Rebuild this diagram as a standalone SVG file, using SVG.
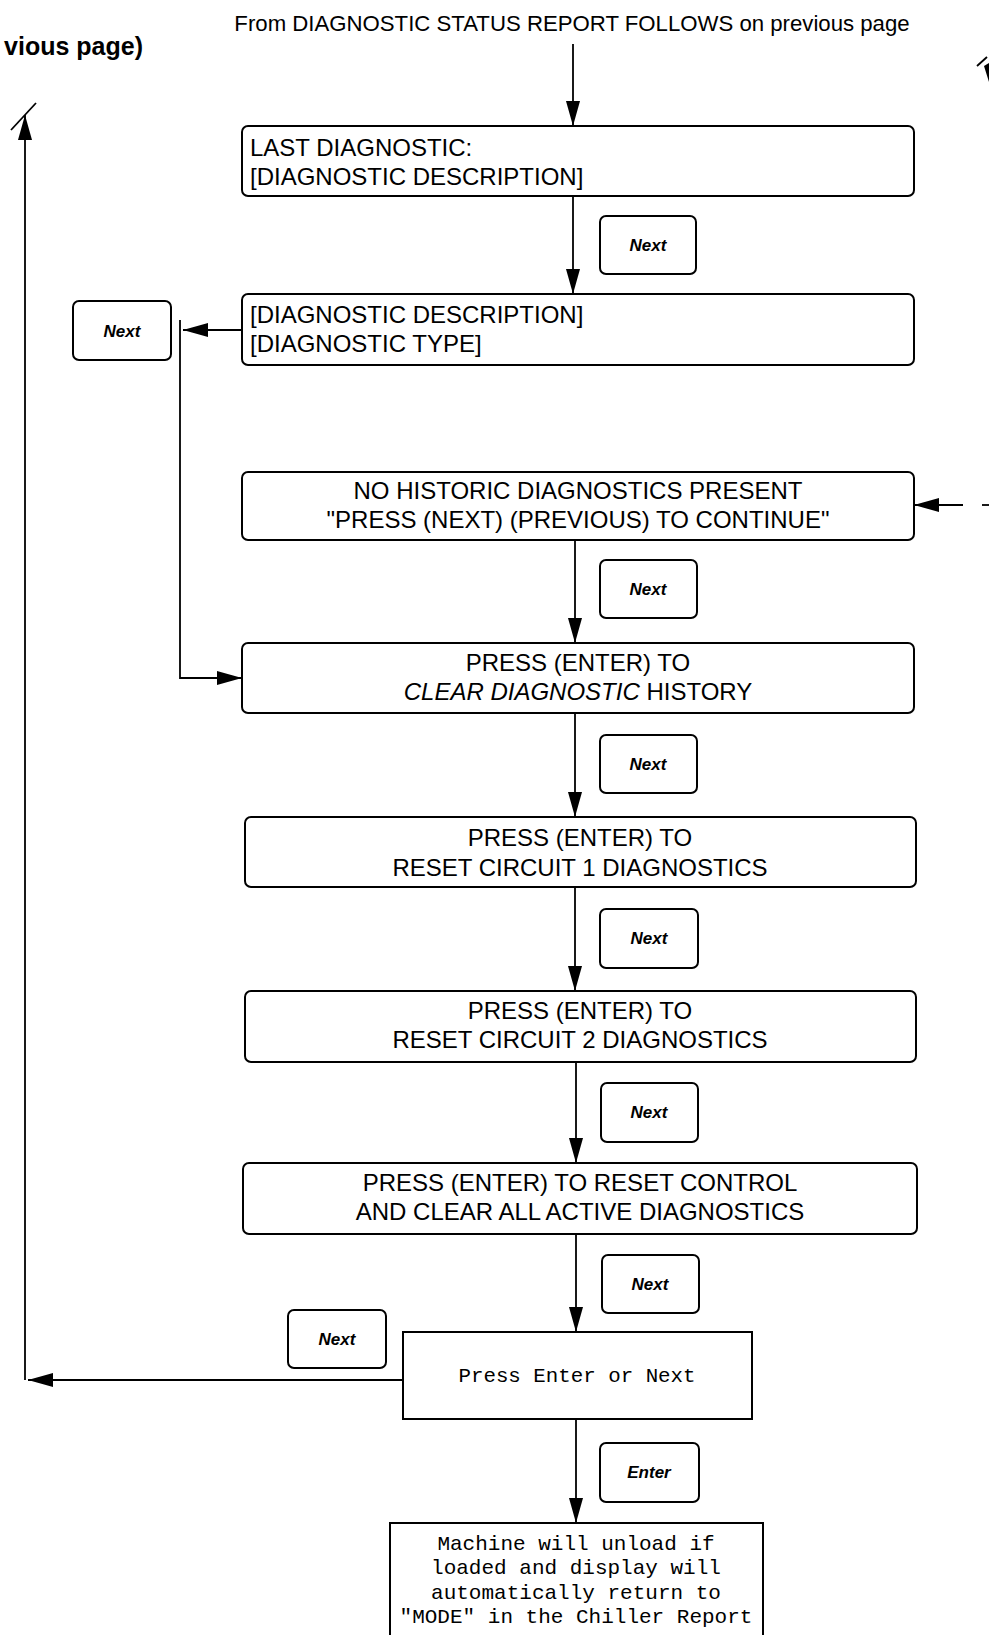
<svg xmlns="http://www.w3.org/2000/svg" width="989" height="1635" viewBox="0 0 989 1635">
<style>
.bg{fill:#fff}
.box{fill:#fff;stroke:#000;stroke-width:2}
.key{fill:#fff;stroke:#000;stroke-width:2}
.ln{fill:none;stroke:#000;stroke-width:1.8}
.t{font-family:"Liberation Sans",Arial,sans-serif;font-size:24px;fill:#000}
.tc{font-family:"Liberation Sans",Arial,sans-serif;font-size:24px;fill:#000;text-anchor:middle}
.k{font-family:"Liberation Sans",Arial,sans-serif;font-size:17px;font-weight:bold;font-style:italic;fill:#000;text-anchor:middle}
.m{font-family:"Liberation Mono","DejaVu Sans Mono",monospace;font-size:21px;fill:#000;text-anchor:middle}
</style>
<defs>
<marker id="ah" markerWidth="25" markerHeight="14" refX="25" refY="7" orient="auto" markerUnits="userSpaceOnUse">
<path d="M0,0 L25,7 L0,14 z" fill="#000"/>
</marker>
</defs>
<rect class="bg" x="0" y="0" width="989" height="1635"/>

<g id="header">
<text x="572" y="31" class="t" style="font-size:22.2px;text-anchor:middle">From DIAGNOSTIC STATUS REPORT FOLLOWS on previous page</text>
<text x="143" y="55" style="font-family:'Liberation Sans',Arial,sans-serif;font-size:25px;font-weight:bold;text-anchor:end">vious page)</text>
</g>

<g id="connectors">
<line class="ln" x1="573" y1="44" x2="573" y2="126" marker-end="url(#ah)"/>
<line class="ln" x1="573" y1="196" x2="573" y2="294" marker-end="url(#ah)"/>
<line class="ln" x1="242" y1="330" x2="183" y2="330" marker-end="url(#ah)"/>
<polyline class="ln" points="180,320 180,678 242,678" marker-end="url(#ah)"/>
<line class="ln" x1="963" y1="505" x2="914" y2="505" marker-end="url(#ah)"/>
<line class="ln" x1="982" y1="505" x2="989" y2="505"/>
<line class="ln" x1="575" y1="540" x2="575" y2="643" marker-end="url(#ah)"/>
<line class="ln" x1="575" y1="713" x2="575" y2="817" marker-end="url(#ah)"/>
<line class="ln" x1="575" y1="887" x2="575" y2="991" marker-end="url(#ah)"/>
<line class="ln" x1="576" y1="1062" x2="576" y2="1163" marker-end="url(#ah)"/>
<line class="ln" x1="576" y1="1234" x2="576" y2="1332" marker-end="url(#ah)"/>
<line class="ln" x1="576" y1="1419" x2="576" y2="1523" marker-end="url(#ah)"/>
<line class="ln" x1="403" y1="1380" x2="28" y2="1380" marker-end="url(#ah)"/>
<line class="ln" x1="25" y1="1380" x2="25" y2="115" marker-end="url(#ah)"/>
<line class="ln" x1="36" y1="103" x2="11" y2="130"/>
<line class="ln" x1="977" y1="66" x2="987" y2="57"/>
<path d="M984,66 L989,63 L989,82 z" fill="#000"/>
</g>

<g id="n1">
<rect class="box" x="242" y="126" width="672" height="70" rx="6"/>
<text class="t" x="250" y="156">LAST DIAGNOSTIC:</text>
<text class="t" x="250" y="185">[DIAGNOSTIC DESCRIPTION]</text>
</g>
<g id="k1"><rect class="key" x="600" y="216" width="96" height="58" rx="6"/><text class="k" x="648" y="251">Next</text></g>

<g id="n2">
<rect class="box" x="242" y="294" width="672" height="71" rx="6"/>
<text class="t" x="250" y="323">[DIAGNOSTIC DESCRIPTION]</text>
<text class="t" x="250" y="352">[DIAGNOSTIC TYPE]</text>
</g>
<g id="k2"><rect class="key" x="73" y="301" width="98" height="59" rx="6"/><text class="k" x="122" y="337">Next</text></g>

<g id="n3">
<rect class="box" x="242" y="472" width="672" height="68" rx="6"/>
<text class="tc" x="578" y="499">NO HISTORIC DIAGNOSTICS PRESENT</text>
<text class="tc" x="578" y="528">"PRESS (NEXT) (PREVIOUS) TO CONTINUE"</text>
</g>
<g id="k3"><rect class="key" x="600" y="560" width="97" height="58" rx="6"/><text class="k" x="648" y="595">Next</text></g>

<g id="n4">
<rect class="box" x="242" y="643" width="672" height="70" rx="6"/>
<text class="tc" x="578" y="671">PRESS (ENTER) TO</text>
<text class="tc" x="578" y="700"><tspan font-style="italic">CLEAR DIAGNOSTIC</tspan> HISTORY</text>
</g>
<g id="k4"><rect class="key" x="600" y="735" width="97" height="58" rx="6"/><text class="k" x="648" y="770">Next</text></g>

<g id="n5">
<rect class="box" x="245" y="817" width="671" height="70" rx="6"/>
<text class="tc" x="580" y="846">PRESS (ENTER) TO</text>
<text class="tc" x="580" y="876">RESET CIRCUIT 1 DIAGNOSTICS</text>
</g>
<g id="k5"><rect class="key" x="600" y="909" width="98" height="59" rx="6"/><text class="k" x="649" y="944">Next</text></g>

<g id="n6">
<rect class="box" x="245" y="991" width="671" height="71" rx="6"/>
<text class="tc" x="580" y="1019">PRESS (ENTER) TO</text>
<text class="tc" x="580" y="1048">RESET CIRCUIT 2 DIAGNOSTICS</text>
</g>
<g id="k6"><rect class="key" x="601" y="1083" width="97" height="59" rx="6"/><text class="k" x="649" y="1118">Next</text></g>

<g id="n7">
<rect class="box" x="243" y="1163" width="674" height="71" rx="6"/>
<text class="tc" x="580" y="1191">PRESS (ENTER) TO RESET CONTROL</text>
<text class="tc" x="580" y="1220">AND CLEAR ALL ACTIVE DIAGNOSTICS</text>
</g>
<g id="k7"><rect class="key" x="602" y="1255" width="97" height="58" rx="6"/><text class="k" x="650" y="1290">Next</text></g>

<g id="n8">
<rect class="box" x="403" y="1332" width="349" height="87"/>
<text class="m" x="577" y="1382" style="font-size:20.8px">Press Enter or Next</text>
</g>
<g id="k8"><rect class="key" x="288" y="1310" width="98" height="58" rx="6"/><text class="k" x="337" y="1345">Next</text></g>

<g id="k9"><rect class="key" x="600" y="1443" width="99" height="59" rx="6"/><text class="k" x="649" y="1478">Enter</text></g>

<g id="n9">
<rect class="box" x="390" y="1523" width="373" height="116"/>
<text class="m" x="576" y="1550">Machine will unload if</text>
<text class="m" x="576" y="1574">loaded and display will</text>
<text class="m" x="576" y="1599">automatically return to</text>
<text class="m" x="576" y="1623">"MODE" in the Chiller Report</text>
</g>
</svg>
